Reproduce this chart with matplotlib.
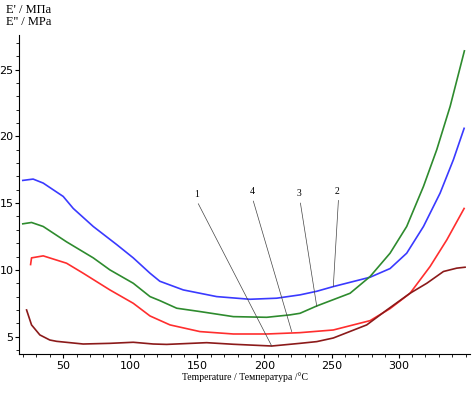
import matplotlib.pyplot as plt
from matplotlib.ticker import MultipleLocator

# curve 2 (blue)
t2 = [19.9, 27.6, 35.1, 50, 57.5, 72.4, 89.8, 102.2, 114.7, 122, 139.5, 164.4, 189.2,
      209.1, 226.5, 239, 251.3, 278.7, 293.6, 306, 318.5, 330.9, 340.8, 348.8]
e2 = [16.7, 16.8, 16.5, 15.5, 14.6, 13.25, 11.9, 10.9, 9.75, 9.15, 8.5, 8.0, 7.8,
      7.88, 8.13, 8.4, 8.75, 9.45, 10.1, 11.25, 13.25, 15.75, 18.25, 20.6]

# curve 3 (green)
t3 = [19.9, 26.4, 35.1, 52.5, 72.4, 84.8, 102.2, 114.7, 122, 134.6, 151.9, 176.8,
      201.7, 219, 226.5, 239, 263.8, 278.7, 293.6, 306, 318.5, 328.4, 338.4, 349]
e3 = [13.45, 13.55, 13.25, 12.1, 10.9, 10.0, 9.0, 8.0, 7.7, 7.13, 6.88, 6.5,
      6.45, 6.63, 6.75, 7.3, 8.25, 9.5, 11.25, 13.25, 16.25, 19.0, 22.25, 26.4]

# curve 4 (red)
t4 = [25.7, 26.4, 35.1, 52.5, 64.9, 84.8, 102.2, 114.7, 129.6, 151.9, 176.8, 201.7,
      226.5, 251.3, 278.7, 293.6, 308.5, 323.4, 335.9, 348.8]
e4 = [10.4, 10.9, 11.05, 10.5, 9.75, 8.5, 7.5, 6.55, 5.88, 5.38, 5.2, 5.2,
      5.3, 5.5, 6.2, 7.1, 8.25, 10.25, 12.25, 14.6]

# curve 1 (dark red)
t1 = [22.7, 26.4, 32.6, 40, 45.1, 64.9, 84.8, 102.2, 117.1, 127.1, 156.9, 176.8,
      205.4, 226.5, 239, 251.3, 276.2, 291.2, 308.5, 321, 333.4, 343.3, 349.5]
e1 = [7.0, 5.88, 5.13, 4.75, 4.65, 4.45, 4.5, 4.58, 4.45, 4.42, 4.55, 4.43,
      4.3, 4.5, 4.63, 4.9, 5.88, 7.0, 8.25, 9.0, 9.88, 10.13, 10.2]

# label positions and where the leader lines touch the curves
labels = ['1', '4', '3', '2']
label_t = [149.7, 190.7, 225.8, 254.1]
label_e = [15.3, 15.5, 15.35, 15.55]
point_t = [205.4, 220.3, 239, 251.3]
point_e = [4.3, 5.38, 7.25, 8.75]

x_ticks = [50, 100, 150, 200, 250, 300]

fig = plt.figure(figsize=(4.73, 3.96), dpi=100)
ax = fig.add_axes([0.040, 0.106, 0.954, 0.806])

ax.plot(t2, e2, color='#3a3aff', lw=1.2)
ax.plot(t3, e3, color='#2e8b2e', lw=1.2)
ax.plot(t4, e4, color='#ff2e2e', lw=1.2)
ax.plot(t1, e1, color='#8b1a1a', lw=1.2)

for lab, lt, le, pt, pe in zip(labels, label_t, label_e, point_t, point_e):
    ax.plot([lt + 1, pt], [le - 0.35, pe], color='#444444', lw=0.5)
    ax.text(lt, le, lab, ha='center', va='bottom', fontsize=7, family='Liberation Serif')

ax.set_xlim(17, 353.3)
ax.set_ylim(3.7, 27.6)
ax.spines['top'].set_visible(False)
ax.spines['right'].set_visible(False)
ax.set_xticks(x_ticks)
ax.xaxis.set_minor_locator(MultipleLocator(10))
ax.yaxis.set_major_locator(MultipleLocator(5))
ax.yaxis.set_minor_locator(MultipleLocator(1))
ax.tick_params(which='major', length=3, width=0.8, labelsize=8, pad=2)
ax.tick_params(which='minor', length=2, width=0.6)
ax.tick_params(axis='y', pad=1)

ax.set_xlabel('Temperature / Температура /°C', fontsize=7, family='Liberation Serif', labelpad=1)
fig.text(0.012, 0.99, "E' / MПa\nE'' / MPa", ha='left', va='top', fontsize=9,
         family='Liberation Serif', linespacing=1.0)

fig.savefig('out.png', dpi=100)
